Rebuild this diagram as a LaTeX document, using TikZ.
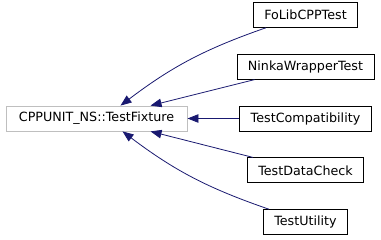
\documentclass[tikz,border=0pt]{standalone}
\usepackage{fontspec}
\setmainfont{DejaVu Sans}
\usetikzlibrary{positioning,arrows.meta}
\definecolor{edgeblue}{RGB}{25,25,112}
\definecolor{basegray}{RGB}{191,191,191}
\tikzstyle{class} = [draw, rectangle, line width=0.8pt, minimum height=25pt, inner xsep=11pt, font=\fontsize{12.7}{15}\selectfont]
\tikzstyle{baseclass} = [class, draw=basegray, inner xsep=13pt]
\tikzstyle{inherit} = [<-, draw=edgeblue, line width=0.8pt]

\begin{document}
\begin{tikzpicture}[auto, node distance=26pt, >={Triangle[length=11pt,width=8.5pt]}]
\useasboundingbox (0,0) rectangle (381pt,-240pt);

\node [baseclass] (fixture) at (96.5pt,-118.5pt) {CPPUNIT\_NS::TestFixture};
\node [class] (compat) at (305.5pt,-118.5pt) {TestCompatibility};
\node [class, above=of compat] (ninka) {NinkaWrapperTest};
\node [class, above=of ninka] (folib) {FoLibCPPTest};
\node [class, below=of compat] (datacheck) {TestDataCheck};
\node [class, below=of datacheck] (utility) {TestUtility};

\draw [inherit] ([xshift=115pt]fixture.north west) to[bend left=9] ([xshift=13pt]folib.south west);
\draw [inherit] ([xshift=145pt]fixture.north west) -- ([xshift=18pt]ninka.south west);
\draw [inherit] (fixture.east) -- (compat.west);
\draw [inherit] ([xshift=145pt]fixture.south west) -- ([xshift=6pt]datacheck.north west);
\draw [inherit] ([xshift=117pt]fixture.south west) to[bend right=9] ([xshift=6pt]utility.north west);

\end{tikzpicture}
\end{document}
